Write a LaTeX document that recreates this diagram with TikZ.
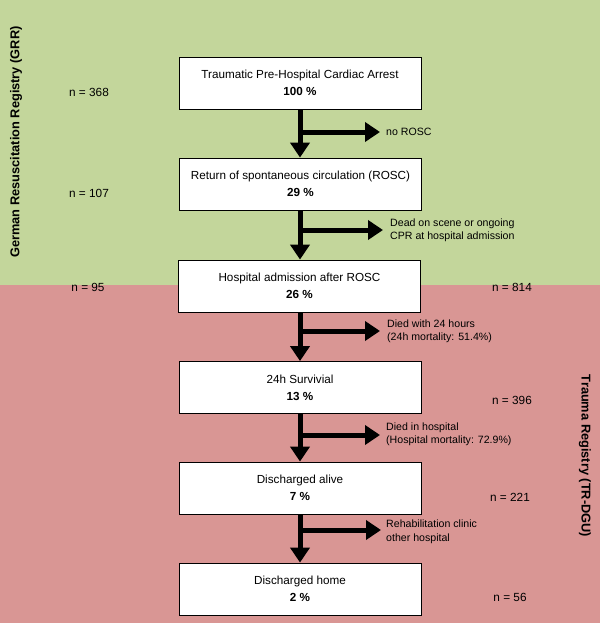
\documentclass[tikz,border=0pt]{standalone}
\usepackage{fontspec}
\setmainfont{Liberation Sans}
\usetikzlibrary{arrows.meta}
\definecolor{grrgreen}{HTML}{C3D69B}
\definecolor{trred}{HTML}{D99694}
\begin{document}
\begin{tikzpicture}[x=1pt,y=-1pt,
  box/.style={draw=black,line width=0.8pt,fill=white,minimum width=242pt,minimum height=52pt,align=center,font=\fontsize{11.7}{17}\selectfont,inner sep=0pt},
  nlab/.style={font=\fontsize{11.8}{13}\selectfont},
  side/.style={anchor=west,align=left,font=\fontsize{10.6}{13.5}\selectfont,inner sep=0pt},
  reg/.style={font=\fontsize{12.8}{14}\selectfont\bfseries},
  flow/.style={line width=5pt,-{Triangle[width=19pt,length=15pt]}}
]
\useasboundingbox (0,0) rectangle (600,623);
\fill[grrgreen] (0,0) rectangle (600,285);
\fill[trred] (0,285) rectangle (600,623);

\node[box] (b1) at (300,83) {Traumatic Pre-Hospital Cardiac Arrest\\\textbf{100 \%}};
\node[box] (b2) at (300.5,184) {Return of spontaneous circulation (ROSC)\\\textbf{29 \%}};
\node[box] (b3) at (299.5,286) {Hospital admission after ROSC\\\textbf{26 \%}};
\node[box] (b4) at (300,387.5) {24h Survivial\\\textbf{13 \%}};
\node[box] (b5) at (300,488) {Discharged alive\\\textbf{7 \%}};
\node[box] (b6) at (300,589) {Discharged home\\\textbf{2 \%}};

\draw[flow] (b1.south -| 300,0) -- (b2.north -| 300,0);
\draw[flow] (b2.south -| 300,0) -- (b3.north -| 300,0);
\draw[flow] (b3.south -| 300,0) -- (b4.north -| 300,0);
\draw[flow] (b4.south -| 300,0) -- (b5.north -| 300,0);
\draw[flow] (b5.south -| 300,0) -- (b6.north -| 300,0);

\coordinate (s1) at (298,132);
\coordinate (s2) at (298,230);
\coordinate (s3) at (298,331);
\coordinate (s4) at (298,435);
\coordinate (s5) at (298,530);
\coordinate (e1) at (380,132);
\coordinate (e2) at (383,230);
\coordinate (e3) at (380,331);
\coordinate (e4) at (380,435);
\coordinate (e5) at (381,530);
\draw[flow] (s1) -- (e1);
\draw[flow] (s2) -- (e2);
\draw[flow] (s3) -- (e3);
\draw[flow] (s4) -- (e4);
\draw[flow] (s5) -- (e5);

\node[side] (t1) at (386,132) {no ROSC};
\node[side] (t2) at (390,230.5) {Dead on scene or ongoing\\CPR at hospital admission};
\node[side] (t3) at (387,331.5) {Died with 24 hours\\(24h mortality: 51.4\%)};
\node[side] (t4) at (386,434.5) {Died in hospital\\(Hospital mortality: 72.9\%)};
\node[side] (t5) at (386,532) {Rehabilitation clinic\\other hospital};

\node[nlab] (n1) at (89,92) {n = 368};
\node[nlab] (n2) at (89,193) {n = 107};
\node[nlab] (n3) at (88,287) {n = 95};
\node[nlab] (n4) at (512,287) {n = 814};
\node[nlab] (n5) at (512,400) {n = 396};
\node[nlab] (n6) at (510,497) {n = 221};
\node[nlab] (n7) at (510,597) {n = 56};

\node[reg,rotate=90] (g) at (16,142) {German Resuscitation Registry (GRR)};
\node[reg,rotate=-90] (t) at (585,456) {Trauma Registry (TR-DGU)};
\end{tikzpicture}
\end{document}
